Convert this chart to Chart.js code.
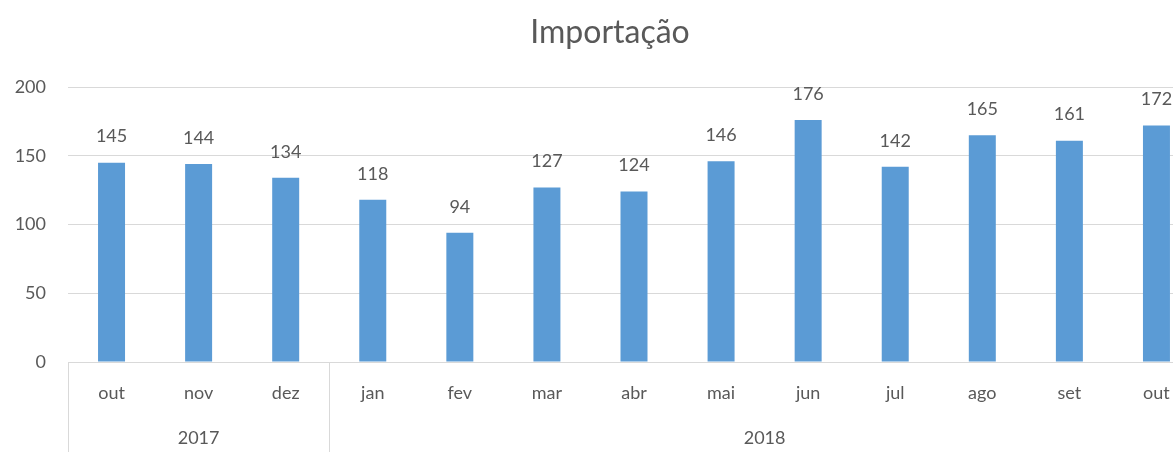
<!DOCTYPE html>
<html>
<head>
<meta charset="utf-8">
<script src="https://cdn.jsdelivr.net/npm/chart.js@4.4.0/dist/chart.umd.min.js"></script>
<style>
  html, body { margin: 0; padding: 0; background: #fff; overflow: hidden; }
  canvas { display: block; }
</style>
</head>
<body>
<canvas id="importChart" width="1220" height="452"></canvas>
<script>
const chartTitle = 'Importação';
const months = ['out', 'nov', 'dez', 'jan', 'fev', 'mar', 'abr', 'mai', 'jun', 'jul', 'ago', 'set', 'out'];
const values = [145, 144, 134, 118, 94, 127, 124, 146, 176, 142, 165, 161, 172];
const years = ['2017', '2018'];
const yearStart = [0, 3];   // first month index of each year
const yearEnd = [2, 12];    // last month index of each year

const textColor = '#595959';
const lineColor = '#d9d9d9';
const fontFamily = 'Lato, "Open Sans", sans-serif';

// title centred on the whole chart area (the plot runs past the window on the right)
const titlePlugin = {
    id: 'titlePlugin',
    afterDraw(chart) {
        const ctx = chart.ctx;
        ctx.save();
        ctx.fillStyle = textColor;
        ctx.font = '32px ' + fontFamily;
        ctx.textAlign = 'center';
        ctx.textBaseline = 'middle';
        ctx.fillText(chartTitle, chart.width / 2, 33);
        ctx.restore();
    }
};

// value labels over the bars
const barLabels = {
    id: 'barLabels',
    afterDatasetsDraw(chart) {
        const ctx = chart.ctx;
        const meta = chart.getDatasetMeta(0);
        ctx.save();
        ctx.fillStyle = textColor;
        ctx.font = '18px ' + fontFamily;
        ctx.textAlign = 'center';
        ctx.textBaseline = 'middle';
        meta.data.forEach((bar, i) => {
            ctx.fillText(values[i], bar.x, bar.y - 26);
        });
        ctx.restore();
    }
};

// second level of the category axis: years and separators
const yearAxis = {
    id: 'yearAxis',
    afterDraw(chart) {
        const ctx = chart.ctx;
        const x = chart.scales.x;
        const top = chart.chartArea.bottom;
        const half = (x.getPixelForValue(1) - x.getPixelForValue(0)) / 2;
        ctx.save();
        ctx.strokeStyle = lineColor;
        ctx.lineWidth = 1;
        ctx.fillStyle = textColor;
        ctx.font = '18px ' + fontFamily;
        ctx.textAlign = 'center';
        ctx.textBaseline = 'middle';
        years.forEach((yr, i) => {
            const left = x.getPixelForValue(yearStart[i]) - half;
            const right = x.getPixelForValue(yearEnd[i]) + half;
            ctx.beginPath();
            ctx.moveTo(Math.round(left) + 0.5, top);
            ctx.lineTo(Math.round(left) + 0.5, chart.height);
            ctx.stroke();
            ctx.fillText(yr, (left + right) / 2, top + 76);
        });
        ctx.restore();
    }
};

new Chart(document.getElementById('importChart'), {
    type: 'bar',
    data: {
        labels: months,
        datasets: [{
            label: chartTitle,
            data: values,
            backgroundColor: '#5b9bd5',
            categoryPercentage: 1,
            barPercentage: 0.31
        }]
    },
    options: {
        responsive: false,
        animation: false,
        layout: { padding: { left: 0, right: 20, top: 87, bottom: 0 } },
        plugins: {
            legend: { display: false },
            tooltip: { enabled: false },
            title: { display: false }
        },
        scales: {
            x: {
                grid: { display: false, drawTicks: false },
                border: { display: true, color: lineColor },
                ticks: {
                    color: textColor,
                    font: { family: fontFamily, size: 18 },
                    padding: 20,
                    maxRotation: 0,
                    autoSkip: false
                },
                afterFit(s) { s.height = 90; }
            },
            y: {
                min: 0,
                max: 200,
                ticks: {
                    stepSize: 50,
                    color: textColor,
                    font: { family: fontFamily, size: 18 },
                    padding: 22
                },
                grid: { color: lineColor, drawTicks: false },
                border: { display: false },
                afterFit(s) { s.width = 68; }
            }
        }
    },
    plugins: [barLabels, yearAxis, titlePlugin]
});
</script>
</body>
</html>
